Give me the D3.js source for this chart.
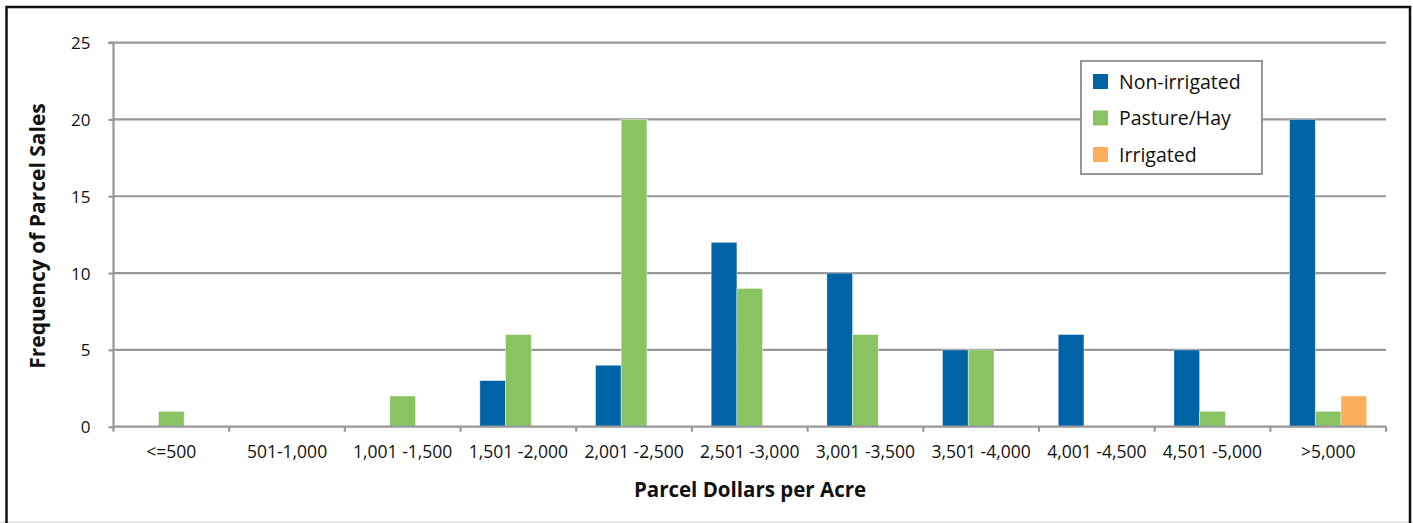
<!DOCTYPE html>
<html><head><meta charset="utf-8">
<script src="https://cdn.jsdelivr.net/npm/d3@7"></script>
<style>html,body{margin:0;padding:0;background:#fff;}svg{display:block;}</style>
</head><body>
<script>
const categories = ["<=500","501-1,000","1,001 -1,500","1,501 -2,000","2,001 -2,500","2,501 -3,000","3,001 -3,500","3,501 -4,000","4,001 -4,500","4,501 -5,000",">5,000"];
const seriesNames = ["Non-irrigated","Pasture/Hay","Irrigated"];
const nonIrrigated = [0,0,0,3,4,12,10,5,6,5,20];
const pastureHay   = [1,0,2,6,20,9,6,5,0,1,1];
const irrigated    = [0,0,0,0,0,0,0,0,0,0,2];
const yTicks = [0,5,10,15,20,25];
const colors = ["#0063A6","#8AC462","#FBAE5C"];
const seriesValues = [nonIrrigated, pastureHay, irrigated];

const W = 1413, H = 523;
const font = "'Open Sans', 'Noto Sans', sans-serif";
const svg = d3.select("body").append("svg").attr("width", W).attr("height", H);

// outer frame
svg.append("rect").attr("x",0).attr("y",0).attr("width",W).attr("height",H).attr("fill","#fff");
svg.append("line").attr("x1",0).attr("x2",W).attr("y1",522).attr("y2",522).attr("stroke","#e0e0e0").attr("stroke-width",1.5);
svg.append("path").attr("d","M6.5,523 V7 H1410 V523").attr("fill","none").attr("stroke","#111").attr("stroke-width",2.5);

const x0 = 113.5, x1 = 1386, yBot = 426.7, yTop = 42.6;
const x = d3.scaleBand().domain(categories).range([x0, x1]).paddingInner(0).paddingOuter(0);
const y = d3.scaleLinear().domain([0,25]).range([yBot, yTop]);
const gw = x.bandwidth();
const xs = d3.scaleBand().domain(seriesNames).range([gw*0.75/4.5, gw - gw*0.75/4.5]).padding(0);

// gridlines
svg.append("g").selectAll("line").data(yTicks.filter(d=>d>0)).join("line")
  .attr("x1", x0).attr("x2", x1).attr("y1", d=>y(d)).attr("y2", d=>y(d))
  .attr("stroke","#98989a").attr("stroke-width",2.2);

// bars
const groups = svg.append("g").selectAll("g").data(seriesNames).join("g")
  .attr("fill",(d,i)=>colors[i]);
groups.selectAll("rect").data((s,si)=>seriesValues[si].map((v,ci)=>({s, v, c:categories[ci]})))
  .join("rect")
  .attr("x", d => x(d.c) + xs(d.s))
  .attr("width", xs.bandwidth())
  .attr("y", d => y(d.v))
  .attr("height", d => y(0) - y(d.v))
  .attr("stroke", "#ffffff").attr("stroke-opacity",0.5).attr("stroke-width",0.8);

// y axis
const yAxis = d3.axisLeft(y).tickValues(yTicks).tickSize(5).tickPadding(18).tickFormat(d3.format("d"));
const gy = svg.append("g").attr("transform",`translate(${x0},0)`).call(yAxis);
gy.select(".domain").attr("stroke","#98989a").attr("stroke-width",2.2).attr("d",`M-5,${yTop}H0V${yBot}`);
gy.selectAll(".tick line").attr("stroke","#98989a").attr("stroke-width",2.2);
gy.selectAll(".tick text").attr("font-family",font).attr("font-size",17).attr("fill","#111").attr("dy","0.35em");

// x axis
const xAxis = d3.axisBottom(x).tickSize(0).tickPadding(19);
const gx = svg.append("g").attr("transform",`translate(0,${yBot})`).call(xAxis);
gx.select(".domain").attr("stroke","#98989a").attr("stroke-width",2.2).attr("d",`M${x0},0H${x1}`);
gx.selectAll(".tick text").attr("font-family",font).attr("font-size",17.5).attr("fill","#111");
// category boundary ticks
svg.append("g").selectAll("line").data(d3.range(categories.length+1)).join("line")
  .attr("x1", i => x0 + i*gw).attr("x2", i => x0 + i*gw)
  .attr("y1", yBot).attr("y2", yBot+5)
  .attr("stroke","#98989a").attr("stroke-width",2.2);

// axis titles
svg.append("text").attr("x", 750).attr("y", 497).attr("text-anchor","middle")
  .attr("font-family",font).attr("font-weight","bold").attr("font-size",20.5).attr("fill","#111")
  .text("Parcel Dollars per Acre");
svg.append("text").attr("transform","translate(45,236) rotate(-90)").attr("text-anchor","middle")
  .attr("font-family",font).attr("font-weight","bold").attr("font-size",21).attr("fill","#111")
  .text("Frequency of Parcel Sales");

// legend
const lg = svg.append("g");
lg.append("rect").attr("x",1081).attr("y",61).attr("width",181).attr("height",113)
  .attr("fill","#fff").attr("stroke","#98989a").attr("stroke-width",2);
const li = lg.selectAll("g").data(seriesNames).join("g")
  .attr("transform",(d,i)=>`translate(1093,${74 + i*36.5})`);
li.append("rect").attr("width",15).attr("height",15).attr("fill",(d,i)=>colors[i]);
li.append("text").attr("x",26).attr("y",8).attr("dy","0.35em")
  .attr("font-family",font).attr("font-size",19.5).attr("fill","#111").text(d=>d);
</script>
</body></html>
